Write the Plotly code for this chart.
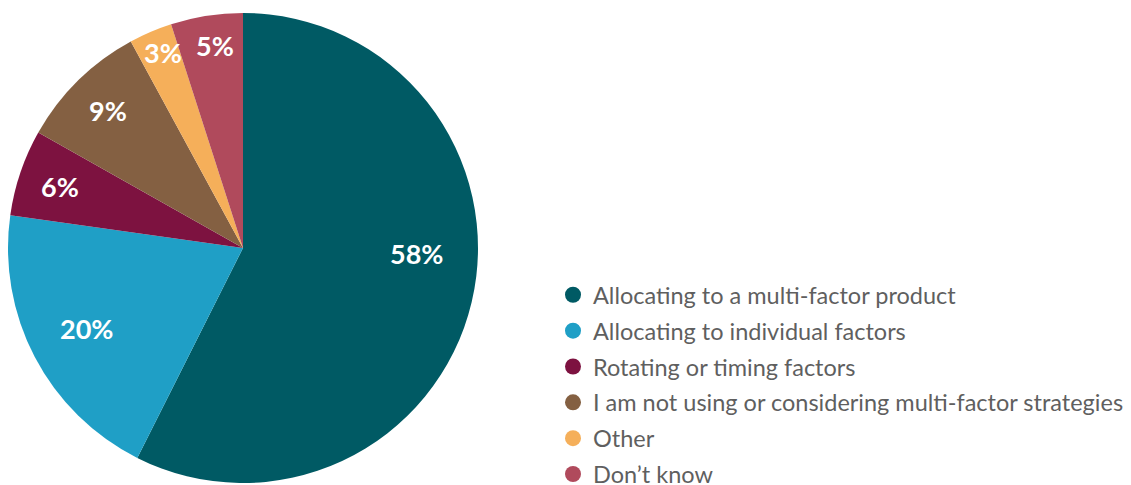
import math
import plotly.graph_objects as go

categories = [
    "Allocating to a multi-factor product",
    "Allocating to individual factors",
    "Rotating or timing factors",
    "I am not using or considering multi-factor strategies",
    "Other",
    "Don\u2019t know",
]
values = [58, 20, 6, 9, 3, 5]
colors = ["#005A64", "#1F9FC6", "#7D1240", "#846042", "#F5AF5A", "#B04A5C"]
labels_text = [f"{v}%" for v in values]

# label placement style (fraction of radius, angular nudge in degrees)
label_radius = [0.74, 0.75, 0.82, 0.82, 0.90, 0.87]
label_nudge = [-11.5, 0.5, 0, 0, 1, 1]

W, H = 1131, 485
cx, cy, R = 243, 248, 235

fig = go.Figure()
fig.add_trace(go.Pie(
    labels=categories,
    values=values,
    textinfo="none",
    sort=False,
    direction="clockwise",
    rotation=0,
    marker=dict(colors=colors, line=dict(width=0)),
    showlegend=False,
    domain=dict(x=[(cx - R) / W, (cx + R) / W],
                y=[1 - (cy + R) / H, 1 - (cy - R) / H]),
    hoverinfo="label+percent",
))

total = sum(values)
cum = 0
for v, t, rf, nd in zip(values, labels_text, label_radius, label_nudge):
    mid = (cum + v / 2) / total * 360 + nd
    cum += v
    a = math.radians(mid)
    px = cx + rf * R * math.sin(a)
    py = cy - rf * R * math.cos(a)
    fig.add_annotation(
        x=px / W, y=1 - py / H, xref="paper", yref="paper",
        text=t, showarrow=False, xanchor="center", yanchor="middle",
        font=dict(family="Lato", size=27, color="white", weight="bold"),
    )

for i, (name, c) in enumerate(zip(categories, colors)):
    fig.add_trace(go.Scatter(
        x=[None], y=[None], mode="markers", name=name,
        legendgroup=f"g{i}",
        marker=dict(color=c, size=17, symbol="circle"),
        showlegend=True,
    ))

fig.update_layout(
    width=W, height=H,
    margin=dict(l=0, r=0, t=0, b=0, autoexpand=False),
    paper_bgcolor="white", plot_bgcolor="white",
    xaxis=dict(visible=False, domain=[0.5, 1]),
    yaxis=dict(visible=False),
    legend=dict(
        x=553 / W, y=1 - 273 / H, xanchor="left", yanchor="top",
        font=dict(family="Lato", size=23.5, color="#5F5F5F"),
        traceorder="grouped",
        tracegroupgap=2.3,
        bgcolor="rgba(0,0,0,0)",
    ),
)

fig.write_html(
    "out.html",
    config={"displayModeBar": False},
    post_script="document.body.style.margin='0';document.body.style.overflow='hidden';",
)
